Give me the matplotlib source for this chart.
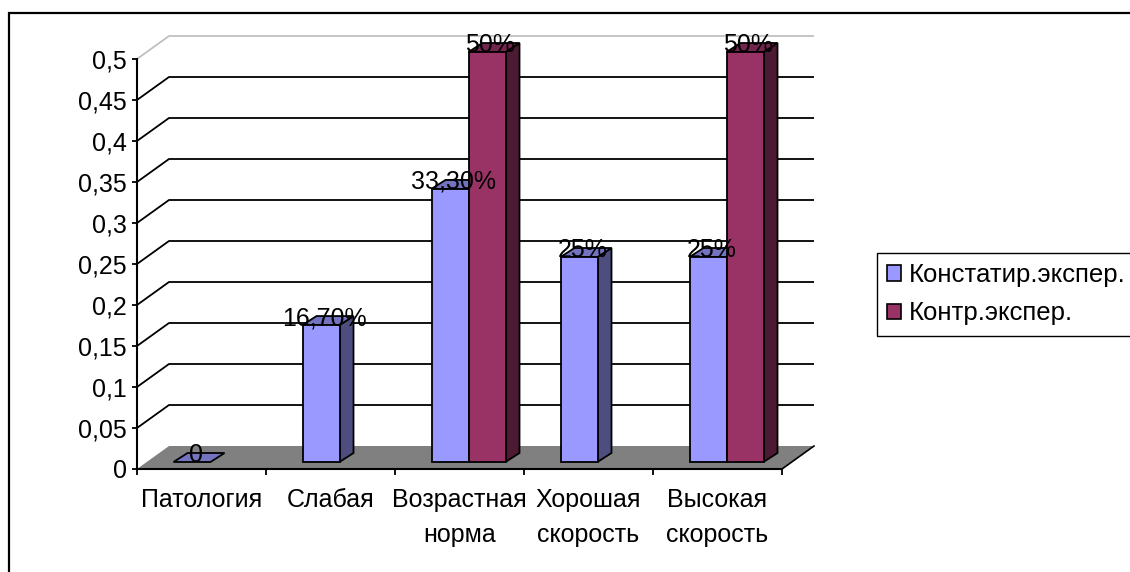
import numpy as np
import matplotlib.pyplot as plt
from matplotlib.patches import Polygon, Patch, Rectangle

plt.rcParams['font.family'] = ['Liberation Sans', 'DejaVu Sans']

# данные диаграммы
categories = ["Патология", "Слабая", "Возрастная\nнорма", "Хорошая\nскорость", "Высокая\nскорость"]
series_names = ["Констатир.экспер.", "Контр.экспер."]
konstat = [0, 0.167, 0.333, 0.25, 0.25]
kontr = [np.nan, np.nan, 0.5, np.nan, 0.5]
yticks = np.arange(0, 0.5001, 0.05)

# цвета граней: перед, бок, верх
face_colors = [("#9999FF", "#4D4D80", "#7373BF"),
               ("#993366", "#4D1A33", "#73264D")]

W, H = 1130, 572
fig = plt.figure(figsize=(W / 100, H / 100), dpi=100)

# рамка вокруг всей диаграммы
fig.patches.append(Rectangle((9 / W, -0.2), 1.2, 1.2 - 13 / H, transform=fig.transFigure,
                             fill=False, edgecolor="black", linewidth=1.6))

ax_l, ax_r, ax_b, ax_t = 137, 782, 469, 59
ax = fig.add_axes([ax_l / W, 1 - ax_b / H, (ax_r - ax_l) / W, (ax_b - ax_t) / H])
n = len(categories)
ax.set_xlim(0, n)
ax.set_ylim(0, 0.5)

# глубина "3D" в пикселях -> в единицах данных
px_x = (ax_r - ax_l) / n
px_y = (ax_b - ax_t) / 0.5
DX, DY = 32 / px_x, 23 / px_y
bar_dx, bar_dy = 14 / px_x, 9 / px_y
off_dx, off_dy = (DX - bar_dx) / 2, (DY - bar_dy) / 2
bar_w = 37 / px_x

# пол
floor = Polygon([(0, 0), (n, 0), (n + DX, DY), (DX, DY)], closed=True,
                facecolor="#808080", edgecolor="none", clip_on=False, zorder=1)
ax.add_patch(floor)
ax.plot([n, n + DX], [0, DY], color="black", lw=1.2, clip_on=False, zorder=1.5)

# линии сетки на задней стенке
for v in yticks[1:]:
    c = "#C0C0C0" if np.isclose(v, 0.5) else "black"
    ax.plot([0, DX, n + DX], [v, v + DY, v + DY], color=c, lw=1.3,
            clip_on=False, zorder=1.2, solid_capstyle="butt")


def bar3d(x0, h, cols):
    x0 = x0 + off_dx
    y0 = off_dy
    front = [(x0, y0), (x0 + bar_w, y0), (x0 + bar_w, y0 + h), (x0, y0 + h)]
    side = [(x0 + bar_w, y0), (x0 + bar_w + bar_dx, y0 + bar_dy),
            (x0 + bar_w + bar_dx, y0 + h + bar_dy), (x0 + bar_w, y0 + h)]
    top = [(x0, y0 + h), (x0 + bar_w, y0 + h),
           (x0 + bar_w + bar_dx, y0 + h + bar_dy), (x0 + bar_dx, y0 + h + bar_dy)]
    for pts, col in ((side, cols[1]), (top, cols[2]), (front, cols[0])):
        if h == 0 and pts is not top:
            continue
        ax.add_patch(Polygon(pts, closed=True, facecolor=col, edgecolor="black",
                             lw=1.3, clip_on=False, zorder=3, joinstyle="miter"))


def fmt_label(v):
    if v == 0:
        return "0"
    p = v * 100
    if np.isclose(p, round(p)):
        return f"{int(round(p))}%"
    return f"{p:.2f}%".replace(".", ",")


labels = []
for i in range(n):
    for s, vals in enumerate([konstat, kontr]):
        v = vals[i]
        if np.isnan(v):
            continue
        x0 = i + 0.5 - bar_w + s * bar_w
        bar3d(x0, v, face_colors[s])
        labels.append((x0 + off_dx + bar_w / 2 + bar_dx / 4, v + off_dy, fmt_label(v)))

for x, y, t in labels:
    ax.text(x, y, t, ha="center", va="baseline", fontsize=18, zorder=5, clip_on=False)

# оси
for sp in ["top", "right"]:
    ax.spines[sp].set_visible(False)
for sp in ["left", "bottom"]:
    ax.spines[sp].set_linewidth(1.5)
    ax.spines[sp].set_zorder(4)
ax.set_yticks(yticks)
ax.set_yticklabels([f"{v:.2f}".rstrip("0").rstrip(".").replace(".", ",") for v in yticks],
                   fontsize=18)
ax.tick_params(axis="y", direction="out", length=3.5, width=1.3, pad=4)
ax.set_xticks(np.arange(n + 1))
ax.set_xticklabels([])
ax.tick_params(axis="x", which="major", direction="out", length=4, width=1.3)
ax.set_xticks(np.arange(n) + 0.5, minor=True)
ax.set_xticklabels(categories, minor=True, fontsize=18, linespacing=1.55)
ax.tick_params(axis="x", which="minor", length=0, pad=14)
ax.patch.set_visible(False)

# легенда
handles = [Patch(facecolor=face_colors[s][0], edgecolor="black", lw=1.2) for s in range(2)]
fig.legend(handles, series_names, loc="upper left", bbox_to_anchor=(877 / W, 1 - 253 / H),
           fontsize=18.5, frameon=True, fancybox=False, edgecolor="black", framealpha=1,
           handlelength=0.55, handleheight=0.55, handletextpad=0.3, labelspacing=0.55,
           borderpad=0.4, borderaxespad=0)

fig.savefig("out.png", dpi=100)
